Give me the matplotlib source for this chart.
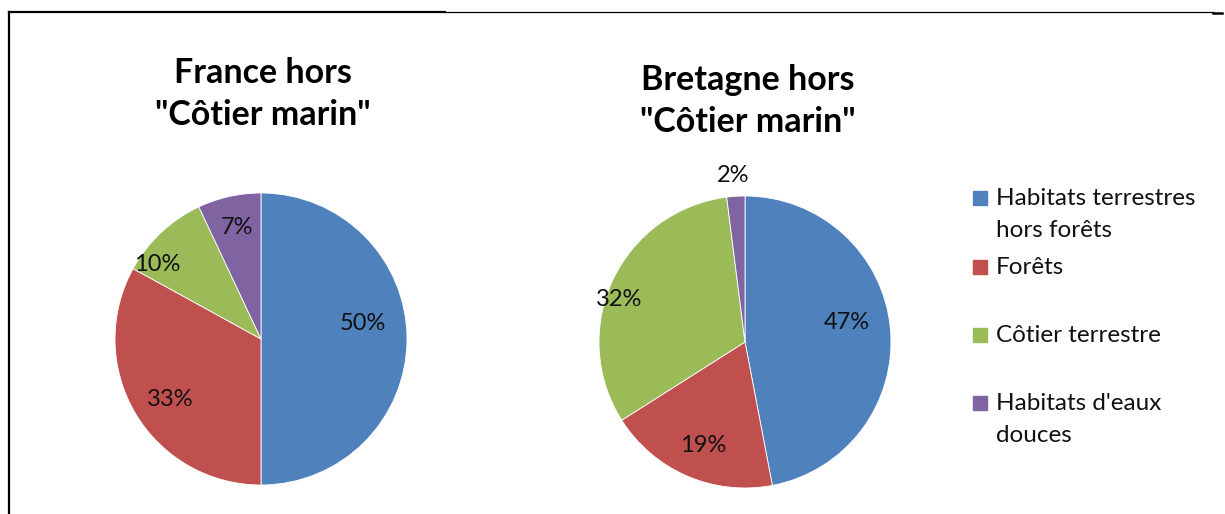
import numpy as np
import matplotlib
matplotlib.use("Agg")
import matplotlib.pyplot as plt
from matplotlib.lines import Line2D
from matplotlib.patches import Rectangle

plt.rcParams['font.family'] = ['Lato', 'DejaVu Sans']

categories = ["Habitats terrestres\nhors forêts", "Forêts", "Côtier terrestre",
              "Habitats d'eaux\ndouces"]
colors = ["#4F81BD", "#C0504D", "#9BBB59", "#8064A2"]

france_title = 'France hors\n"Côtier marin"'
france_values = [50, 33, 10, 7]

bretagne_title = 'Bretagne hors\n"Côtier marin"'
bretagne_values = [47, 19, 32, 2]

# label placement: (distance from centre as a fraction of radius, angle in degrees)
france_label_pos = [(0.705, 8.9), (0.747, -146.6), (0.878, 144.2), (0.778, 102.2)]
bretagne_label_pos = [(0.711, 10.6), (0.768, -112.0), (0.912, 161.2), (1.14, 94.1)]

W, H = 1225, 514
fig = plt.figure(figsize=(W / 100, H / 100), dpi=100)


def px_axes(cx, cy, r):
    return fig.add_axes([(cx - r) / W, (H - cy - r) / H, 2 * r / W, 2 * r / H])


def draw_pie(ax, values, label_pos):
    ax.pie(values, colors=colors, startangle=90, counterclock=False,
           radius=1.0, wedgeprops=dict(linewidth=0.6, edgecolor="white"))
    for v, (rr, ang) in zip(values, label_pos):
        a = np.deg2rad(ang)
        ax.text(rr * np.cos(a), rr * np.sin(a), f"{v}%", ha="center",
                va="center", fontsize=17, color="#111111")
    ax.set_xlim(-1, 1)
    ax.set_ylim(-1, 1)
    ax.set_aspect("equal")
    ax.axis("off")


ax1 = px_axes(261, 339, 146)
draw_pie(ax1, france_values, france_label_pos)
ax2 = px_axes(745, 342, 146)
draw_pie(ax2, bretagne_values, bretagne_label_pos)

fig.text(263 / W, 1 - 94 / H, france_title, ha="center", va="center",
         fontsize=24.5, fontweight="bold", linespacing=1.38)
fig.text(748 / W, 1 - 101 / H, bretagne_title, ha="center", va="center",
         fontsize=24.5, fontweight="bold", linespacing=1.38)

# legend, drawn by hand
legend_rows = [198, 267, 335, 403]
for label, color, y in zip(categories, colors, legend_rows):
    fig.patches.append(Rectangle((973 / W, 1 - (y + 7) / H), 14 / W, 14 / H,
                                 transform=fig.transFigure, color=color))
    fig.text(996 / W, 1 - (y - 10) / H, label, ha="left", va="top",
             fontsize=17.5, color="#111111", linespacing=1.62)

# chart frame
fig.lines.append(Line2D([9 / W, 9 / W], [0, 1 - 12 / H], transform=fig.transFigure,
                        color="black", linewidth=1.6))
fig.lines.append(Line2D([9 / W, 445 / W], [1 - 12 / H, 1 - 12 / H],
                        transform=fig.transFigure, color="black", linewidth=1.6))
fig.lines.append(Line2D([445 / W, 1213 / W], [1 - 12 / H, 1 - 12 / H],
                        transform=fig.transFigure, color="black", linewidth=0.9))
fig.lines.append(Line2D([1213 / W, 1222 / W], [1 - 12.5 / H, 1 - 12.5 / H],
                        transform=fig.transFigure, color="black", linewidth=1.8))

fig.savefig("out.png", dpi=100, facecolor="white")
